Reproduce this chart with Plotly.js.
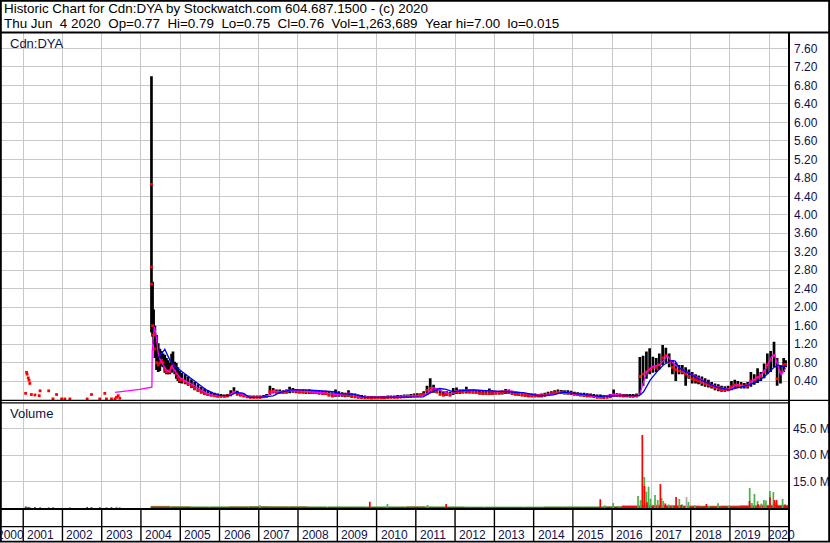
<!DOCTYPE html>
<html><head><meta charset="utf-8">
<script src="https://cdn.plot.ly/plotly-3.0.1.min.js"></script>
<style>html,body{margin:0;padding:0;background:#fff}#chart{width:830px;height:543px}</style>
</head><body><div id="chart"></div>
<script>
// ---------------- DATA ----------------
const priceDates = [
 '2004-04-08','2004-04-18','2004-04-28','2004-05-10','2004-05-25','2004-06-10','2004-06-25','2004-07-10','2004-07-25','2004-08-10','2004-08-25','2004-09-10','2004-09-25','2004-10-12','2004-10-25','2004-11-10','2004-11-25','2004-12-10','2004-12-25',
 '2005-01-15','2005-02-15','2005-03-15','2005-04-15','2005-05-15','2005-06-15','2005-07-15','2005-08-15','2005-09-15','2005-10-15','2005-11-15','2005-12-15',
 '2006-01-15','2006-02-15','2006-03-15','2006-04-15','2006-05-15','2006-06-15','2006-07-15','2006-08-15','2006-09-15','2006-10-15','2006-11-15','2006-12-15',
 '2007-01-15','2007-02-15','2007-03-15','2007-04-15','2007-05-15','2007-06-15','2007-07-15','2007-08-15','2007-09-15','2007-10-15','2007-11-15','2007-12-15',
 '2008-01-15','2008-02-15','2008-03-15','2008-04-15','2008-05-15','2008-06-15','2008-07-15','2008-08-15','2008-09-15','2008-10-15','2008-11-15','2008-12-15',
 '2009-01-15','2009-02-15','2009-03-15','2009-04-15','2009-05-15','2009-06-15','2009-07-15','2009-08-15','2009-09-15','2009-10-15','2009-11-15','2009-12-15',
 '2010-01-15','2010-02-15','2010-03-15','2010-04-15','2010-05-15','2010-06-15','2010-07-15','2010-08-15','2010-09-15','2010-10-15','2010-11-15','2010-12-15',
 '2011-01-15','2011-02-15','2011-03-15','2011-04-15','2011-05-15','2011-06-15','2011-07-15','2011-08-15','2011-09-15','2011-10-15','2011-11-15','2011-12-15',
 '2012-01-15','2012-02-15','2012-03-15','2012-04-15','2012-05-15','2012-06-15','2012-07-15','2012-08-15','2012-09-15','2012-10-15','2012-11-15','2012-12-15',
 '2013-01-15','2013-02-15','2013-03-15','2013-04-15','2013-05-15','2013-06-15','2013-07-15','2013-08-15','2013-09-15','2013-10-15','2013-11-15','2013-12-15',
 '2014-01-15','2014-02-15','2014-03-15','2014-04-15','2014-05-15','2014-06-15','2014-07-15','2014-08-15','2014-09-15','2014-10-15','2014-11-15','2014-12-15',
 '2015-01-15','2015-02-15','2015-03-15','2015-04-15','2015-05-15','2015-06-15','2015-07-15','2015-08-15','2015-09-15','2015-10-15','2015-11-15','2015-12-15',
 '2016-01-15','2016-02-15','2016-03-15','2016-04-15','2016-05-15','2016-06-15','2016-07-15','2016-08-15','2016-09-15','2016-10-15','2016-11-15','2016-12-15',
 '2017-01-15','2017-02-15','2017-03-15','2017-04-15','2017-05-15','2017-06-15','2017-07-15','2017-08-15','2017-09-15','2017-10-15','2017-11-15','2017-12-15',
 '2018-01-15','2018-02-15','2018-03-15','2018-04-15','2018-05-15','2018-06-15','2018-07-15','2018-08-15','2018-09-15','2018-10-15','2018-11-15','2018-12-15',
 '2019-01-15','2019-02-15','2019-03-15','2019-04-15','2019-05-15','2019-06-15','2019-07-15','2019-08-15','2019-09-15','2019-10-15','2019-11-15','2019-12-15',
 '2020-01-15','2020-02-15','2020-03-15','2020-04-15','2020-05-15','2020-06-02'
];
const priceHigh = [
 7.00,2.55,1.95,1.6,1.4,1.22,1.1,1.05,1.0,0.97,0.9,0.85,0.8,0.99,1.04,0.82,0.79,0.7,0.62,
 0.58,0.55,0.5,0.44,0.38,0.33,0.28,0.24,0.2,0.17,0.15,0.13,
 0.12,0.11,0.12,0.2,0.27,0.19,0.15,0.13,0.1,0.09,0.09,0.09,
 0.09,0.1,0.12,0.3,0.25,0.22,0.22,0.2,0.22,0.28,0.25,0.23,
 0.22,0.22,0.21,0.22,0.21,0.2,0.2,0.19,0.19,0.17,0.16,0.22,
 0.18,0.16,0.15,0.2,0.14,0.13,0.11,0.1,0.09,0.08,0.08,0.08,
 0.08,0.08,0.08,0.09,0.09,0.09,0.1,0.1,0.11,0.11,0.12,0.13,
 0.14,0.14,0.18,0.3,0.46,0.32,0.25,0.22,0.18,0.18,0.17,0.25,
 0.26,0.22,0.22,0.28,0.22,0.21,0.2,0.2,0.2,0.19,0.24,0.2,
 0.19,0.19,0.2,0.23,0.22,0.19,0.17,0.16,0.15,0.14,0.13,0.13,
 0.13,0.12,0.13,0.15,0.17,0.18,0.2,0.22,0.21,0.2,0.2,0.19,
 0.17,0.16,0.15,0.15,0.14,0.13,0.12,0.11,0.11,0.1,0.1,0.12,
 0.22,0.14,0.13,0.12,0.12,0.12,0.12,0.13,0.92,0.95,1.04,1.11,
 0.93,0.9,1.0,1.18,1.12,1.0,0.85,0.8,0.75,0.75,0.7,0.65,
 0.6,0.55,0.52,0.5,0.46,0.43,0.38,0.35,0.33,0.3,0.29,0.3,
 0.4,0.43,0.4,0.38,0.36,0.38,0.6,0.55,0.68,0.6,0.78,1.0,
 1.05,1.25,0.9,0.75,0.9,0.85
];
const priceLow = [
 1.45,1.36,1.2,0.9,0.64,0.6,0.62,0.72,0.7,0.58,0.55,0.55,0.55,0.58,0.6,0.55,0.45,0.4,0.36,
 0.35,0.33,0.3,0.25,0.2,0.17,0.13,0.1,0.08,0.07,0.06,0.05,
 0.05,0.05,0.05,0.07,0.12,0.09,0.07,0.05,0.04,0.03,0.03,0.03,
 0.03,0.04,0.05,0.1,0.13,0.13,0.12,0.12,0.13,0.14,0.15,0.14,
 0.13,0.13,0.12,0.12,0.12,0.12,0.11,0.1,0.1,0.07,0.05,0.06,
 0.06,0.06,0.05,0.06,0.04,0.04,0.03,0.02,0.02,0.02,0.015,0.02,
 0.02,0.02,0.02,0.02,0.03,0.03,0.03,0.03,0.04,0.04,0.05,0.06,
 0.06,0.07,0.08,0.1,0.15,0.15,0.14,0.09,0.07,0.08,0.07,0.1,
 0.12,0.12,0.13,0.13,0.13,0.13,0.12,0.11,0.1,0.1,0.1,0.1,
 0.11,0.11,0.11,0.12,0.12,0.1,0.09,0.08,0.07,0.06,0.05,0.05,
 0.05,0.05,0.05,0.06,0.08,0.1,0.11,0.12,0.12,0.11,0.11,0.1,
 0.09,0.08,0.07,0.06,0.05,0.05,0.04,0.03,0.03,0.02,0.03,0.04,
 0.06,0.06,0.06,0.05,0.05,0.05,0.05,0.05,0.1,0.3,0.45,0.55,
 0.58,0.6,0.65,0.75,0.8,0.7,0.55,0.4,0.55,0.55,0.3,0.45,
 0.35,0.35,0.33,0.3,0.28,0.26,0.24,0.2,0.18,0.17,0.17,0.18,
 0.2,0.24,0.25,0.24,0.24,0.24,0.28,0.32,0.36,0.4,0.46,0.55,
 0.6,0.7,0.3,0.35,0.6,0.7
];
const priceClose = [
 2.5,1.6,1.4,1.1,0.8,0.75,0.8,0.85,0.8,0.65,0.6,0.62,0.6,0.7,0.75,0.62,0.55,0.48,0.42,
 0.42,0.38,0.34,0.29,0.24,0.2,0.16,0.13,0.11,0.09,0.08,0.07,
 0.07,0.07,0.08,0.12,0.16,0.12,0.1,0.08,0.06,0.05,0.05,0.05,
 0.05,0.06,0.07,0.17,0.18,0.16,0.15,0.15,0.16,0.2,0.19,0.18,
 0.17,0.16,0.16,0.16,0.15,0.15,0.14,0.13,0.13,0.1,0.08,0.1,
 0.11,0.1,0.09,0.1,0.07,0.06,0.05,0.05,0.04,0.04,0.03,0.04,
 0.04,0.04,0.04,0.05,0.05,0.05,0.05,0.06,0.06,0.07,0.07,0.08,
 0.08,0.09,0.12,0.2,0.24,0.2,0.17,0.12,0.1,0.11,0.1,0.15,
 0.17,0.16,0.17,0.18,0.17,0.16,0.15,0.14,0.13,0.13,0.13,0.13,
 0.14,0.14,0.15,0.16,0.15,0.13,0.12,0.11,0.1,0.09,0.08,0.08,
 0.08,0.08,0.08,0.1,0.12,0.13,0.15,0.16,0.16,0.15,0.14,0.14,
 0.12,0.11,0.1,0.09,0.08,0.08,0.07,0.05,0.05,0.05,0.05,0.06,
 0.1,0.09,0.08,0.08,0.08,0.07,0.07,0.08,0.5,0.55,0.6,0.65,
 0.7,0.7,0.75,0.9,0.95,0.8,0.7,0.65,0.62,0.6,0.55,0.5,
 0.45,0.43,0.4,0.37,0.34,0.32,0.29,0.26,0.23,0.21,0.21,0.22,
 0.28,0.32,0.31,0.3,0.29,0.3,0.4,0.42,0.48,0.5,0.6,0.75,
 0.85,0.95,0.45,0.6,0.75,0.76
];
// isolated trades (red dots) before regular trading + intraday prints in the spike
const tradeDates = ['2001-01-23','2001-02-01','2001-02-06','2001-02-17','2001-02-24','2001-03-03','2001-03-18','2001-04-20','2001-05-30','2001-06-07','2001-08-26','2001-10-05','2001-11-07','2001-12-24','2002-01-23','2002-03-11','2002-08-19','2002-09-28','2002-12-14','2003-01-30','2003-02-14','2003-04-02','2003-05-05','2003-05-19','2003-06-03','2003-06-18','2004-04-09','2004-04-10'];
const tradePrices = [0.135,0.59,0.55,0.47,0.42,0.35,0.11,0.10,0.085,0.19,0.19,0.015,0.11,0.015,0.015,0.015,0.015,0.11,0.015,0.135,0.015,0.015,0.015,0.05,0.085,0.03,4.66,2.87];
// short moving average (magenta)
const maShortDates = ['2003-05-05','2003-09-20','2003-12-20','2004-04-12','2004-04-15','2004-05-05','2004-05-20','2004-06-10','2004-06-28','2004-07-25','2004-08-25','2004-09-20','2004-10-15','2004-11-25','2005-01-01','2005-03-01','2005-05-01','2005-07-01','2005-09-01','2005-11-01','2006-01-15','2006-04-01','2006-05-15','2006-07-01','2006-08-15','2006-10-15','2007-03-01','2007-04-15','2007-05-20','2007-08-01','2007-10-15','2008-01-01','2008-06-01','2008-10-01','2009-01-01','2009-04-25','2009-07-25','2010-01-01','2010-05-01','2010-10-01','2011-03-10','2011-04-20','2011-06-10','2011-07-10','2011-09-10','2011-11-25','2011-12-28','2012-02-15','2012-06-15','2012-10-20','2013-01-20','2013-05-20','2013-09-25','2014-01-20','2014-05-01','2014-08-01','2014-10-01','2015-03-01','2015-09-10','2016-01-10','2016-05-15','2016-09-10','2016-10-20','2016-11-18','2017-01-05','2017-03-15','2017-05-05','2017-05-28','2017-07-20','2017-09-20','2017-11-20','2018-01-20','2018-03-25','2018-05-25','2018-08-28','2018-12-28','2019-03-01','2019-06-01','2019-08-05','2019-10-05','2019-12-05','2020-01-22','2020-02-20','2020-03-25','2020-04-22','2020-06-03'];
const maShort = [0.155,0.19,0.22,0.27,1.05,1.58,1.40,1.0,0.86,0.75,0.64,0.6,0.72,0.58,0.47,0.39,0.32,0.22,0.14,0.085,0.08,0.09,0.17,0.14,0.10,0.05,0.05,0.12,0.18,0.17,0.21,0.19,0.17,0.14,0.11,0.14,0.06,0.05,0.05,0.08,0.085,0.14,0.26,0.24,0.17,0.12,0.17,0.21,0.21,0.19,0.17,0.19,0.15,0.10,0.09,0.13,0.15,0.11,0.06,0.11,0.085,0.085,0.39,0.60,0.71,0.75,0.87,0.95,0.79,0.68,0.60,0.53,0.46,0.37,0.28,0.22,0.32,0.29,0.42,0.51,0.68,0.93,0.97,0.71,0.53,0.68];
// long moving average (blue)
const maLongDates = ['2004-06-12','2004-08-10','2004-09-25','2004-11-08','2004-12-28','2005-03-01','2005-05-01','2005-07-01','2005-09-01','2005-11-01','2006-01-01','2006-04-05','2006-06-05','2006-08-07','2006-10-08','2007-01-08','2007-05-15','2007-07-15','2007-10-20','2008-03-20','2008-07-20','2008-11-25','2009-01-25','2009-05-25','2009-09-25','2010-05-05','2010-10-05','2011-03-10','2011-05-10','2011-08-10','2011-10-10','2011-12-15','2012-02-15','2012-06-15','2012-11-15','2013-04-20','2013-09-25','2014-02-25','2014-07-01','2014-10-01','2015-03-08','2015-09-10','2016-05-15','2016-09-10','2016-10-20','2016-12-20','2017-02-20','2017-04-22','2017-06-25','2017-08-08','2017-09-20','2017-11-20','2018-01-20','2018-03-25','2018-05-25','2018-08-28','2018-12-28','2019-04-01','2019-07-01','2019-10-05','2019-12-05','2020-02-05','2020-03-25','2020-05-10','2020-06-03'];
const maLong = [0.9,1.09,0.86,0.72,0.64,0.53,0.42,0.32,0.21,0.14,0.09,0.085,0.15,0.14,0.05,0.05,0.08,0.15,0.21,0.21,0.19,0.17,0.13,0.12,0.05,0.05,0.06,0.06,0.14,0.24,0.22,0.17,0.19,0.21,0.19,0.17,0.15,0.08,0.10,0.16,0.12,0.07,0.09,0.085,0.17,0.42,0.60,0.75,0.84,0.84,0.68,0.60,0.51,0.44,0.37,0.27,0.21,0.27,0.32,0.42,0.53,0.68,0.75,0.71,0.74];
// volume (millions of shares)
const volBaseDates = ['2004-07-01','2005-01-01','2005-07-01','2006-01-01','2006-07-01','2007-01-01','2007-07-01','2008-01-01','2008-07-01','2009-01-01','2009-07-01','2010-01-01','2010-07-01','2011-01-01','2011-07-01','2012-01-01','2012-07-01','2013-01-01','2013-07-01','2014-01-01','2014-07-01','2015-01-01','2015-07-01','2016-01-01','2016-07-01','2017-01-01','2017-07-01','2018-01-01','2018-07-01','2019-01-01','2019-07-01','2020-01-01','2020-04-15'];
const volBaseUp = [1.2,1.0,0.9,0.9,1.0,1.1,1.0,1.0,0.9,0.9,0.9,0.9,0.9,1.0,0.9,0.9,0.8,0.8,0.8,0.8,0.9,0.9,0.9,1.0,1.5,1.8,1.6,1.4,1.3,1.4,1.6,1.8,1.8];
const volBaseDown = [0.8,0.7,0.6,0.6,0.7,0.7,0.7,0.7,0.6,0.6,0.6,0.6,0.6,0.7,0.6,0.6,0.5,0.5,0.5,0.5,0.6,0.6,0.6,0.7,1.1,1.2,1.1,1.0,0.9,1.0,1.1,1.2,1.2];
const volUpDates = ['2001-02-01','2001-03-03','2001-06-07','2001-08-26','2002-03-11','2003-02-14','2003-05-19','2003-06-18','2007-01-12','2010-04-12','2011-04-20','2015-10-25','2016-01-11','2016-03-10','2016-08-29','2016-09-21','2016-10-27','2016-11-14','2016-12-05','2016-12-23','2017-02-03','2017-02-28','2017-04-05','2017-04-21','2017-06-10','2017-07-15','2017-09-17','2017-10-15','2017-12-11','2018-02-10','2018-06-20','2018-09-12','2018-12-20','2019-07-04','2019-07-25','2019-08-17','2019-09-15','2019-10-20','2019-11-13','2019-12-02','2020-01-08','2020-02-09','2020-03-05','2020-05-05'];
const volUp = [0.8,0.6,0.5,0.5,0.4,0.6,0.7,0.5,1.5,2.3,1.7,1.5,2.8,1.2,6.8,4.5,17.6,9.3,12.1,5.3,7.4,4.5,5.6,4.0,2.0,1.5,5.1,2.0,3.4,1.5,1.2,2.7,1.4,11.4,2.8,8.0,3.9,2.5,4.5,4.3,9.7,9.1,3.2,5.1];
const volDownDates = ['2001-01-23','2001-02-17','2001-04-20','2001-10-05','2002-08-19','2002-09-28','2002-12-14','2003-04-02','2009-10-30','2011-10-10','2015-09-13','2016-10-08','2016-10-27','2016-11-20','2017-03-25','2017-05-10','2017-08-18','2017-10-05','2018-05-27','2019-07-02','2019-09-20','2020-01-08','2020-02-20','2020-03-10','2020-05-28'];
const volDown = [0.8,0.6,0.5,0.4,0.6,0.5,0.5,0.5,3.5,2.3,5.0,41.5,12.5,3.3,13.6,2.6,6.2,1.8,2.3,4.0,2.2,6.1,4.5,4.5,2.0];
const volFlatDates = ['2017-11-23'];
const volFlat = [6.2];
// axis labels
const priceTicks = [0.4,0.8,1.2,1.6,2.0,2.4,2.8,3.2,3.6,4.0,4.4,4.8,5.2,5.6,6.0,6.4,6.8,7.2,7.6];
const priceTickText = ['0.40','0.80','1.20','1.60','2.00','2.40','2.80','3.20','3.60','4.00','4.40','4.80','5.20','5.60','6.00','6.40','6.80','7.20','7.60'];
const volTicks = [15,30,45];
const volTickText = ['15.0 M','30.0 M','45.0 M'];
const yearLines = ['2001-01-01','2002-01-01','2003-01-01','2004-01-01','2005-01-01','2006-01-01','2007-01-01','2008-01-01','2009-01-01','2010-01-01','2011-01-01','2012-01-01','2013-01-01','2014-01-01','2015-01-01','2016-01-01','2017-01-01','2018-01-01','2019-01-01','2020-01-01'];
const yearLabels = ['2000','2001','2002','2003','2004','2005','2006','2007','2008','2009','2010','2011','2012','2013','2014','2015','2016','2017','2018','2019','2020'];
const headerLine1 = 'Historic Chart for Cdn:DYA by Stockwatch.com 604.687.1500 - (c) 2020';
const headerLine2 = 'Thu Jun \u00a04 2020 \u00a0Op=0.77 \u00a0Hi=0.79 \u00a0Lo=0.75 \u00a0Cl=0.76 \u00a0Vol=1,263,689 \u00a0Year hi=7.00 \u00a0lo=0.015';

// ---------------- LAYOUT HELPERS ----------------
const W = 789, T = 33, B = 509, H = B - T;
const PX = p => p / W;
const PY = p => (B - p) / H;
const DAY = 86400000;
const FONT = 'Liberation Sans, Arial, sans-serif';
const NAVY = '#10104a';
const GRID = '#c8c8c8';

const traces = [
  {type:'bar', x:priceDates, y:priceHigh.map((h,i)=>h-priceLow[i]), base:priceLow, width:25*DAY,
   marker:{color:'#000', line:{width:0}}, xaxis:'x', yaxis:'y', hoverinfo:'skip'},
  {type:'scatter', mode:'markers', x:priceDates, y:priceClose, marker:{symbol:'square', size:2.8, color:'#ff0000'},
   xaxis:'x', yaxis:'y', hoverinfo:'skip'},
  {type:'scatter', mode:'markers', x:tradeDates, y:tradePrices, marker:{symbol:'square', size:2.8, color:'#ff0000'},
   xaxis:'x', yaxis:'y', hoverinfo:'skip', cliponaxis:false},
  {type:'scatter', mode:'lines', x:maShortDates, y:maShort, line:{color:'#ff00ff', width:1.3},
   xaxis:'x', yaxis:'y', hoverinfo:'skip'},
  {type:'scatter', mode:'lines', x:maLongDates, y:maLong, line:{color:'#0000ff', width:1.3},
   xaxis:'x', yaxis:'y', hoverinfo:'skip'},
  {type:'bar', x:volBaseDates, y:volBaseUp, width:182*DAY, marker:{color:'#4cb04c', line:{width:0}}, xaxis:'x', yaxis:'y2', hoverinfo:'skip'},
  {type:'bar', x:volBaseDates, y:volBaseDown, width:182*DAY, marker:{color:'#ff0000', line:{width:0}}, xaxis:'x', yaxis:'y2', hoverinfo:'skip'},
  {type:'bar', x:volUpDates, y:volUp, width:16*DAY, marker:{color:'#4cb04c', line:{width:0}}, xaxis:'x', yaxis:'y2', hoverinfo:'skip'},
  {type:'bar', x:volFlatDates, y:volFlat, width:16*DAY, marker:{color:'#a8a8a8', line:{width:0}}, xaxis:'x', yaxis:'y2', hoverinfo:'skip'},
  {type:'bar', x:volDownDates, y:volDown, width:16*DAY, marker:{color:'#ff0000', line:{width:0}}, xaxis:'x', yaxis:'y2', hoverinfo:'skip'}
];

const shapes = [];
const hline = (py, x0, x1, w) => shapes.push({type:'line', xref:'paper', yref:'paper', x0:PX(x0), x1:PX(x1), y0:PY(py), y1:PY(py), line:{color:'#000', width:w}});
const vline = (px, y0, y1, w) => shapes.push({type:'line', xref:'paper', yref:'paper', x0:PX(px), x1:PX(px), y0:PY(y0), y1:PY(y1), line:{color:'#000', width:w}});
shapes.push({type:'rect', xref:'paper', yref:'paper', x0:PX(0.9), x1:PX(829.1), y0:PY(0.8), y1:PY(541.6), line:{color:'#000', width:1.8}});
hline(32.6, 0, 830, 2);
vline(789, 32, 542, 2);
hline(400.4, 0, 830, 1.2);
hline(402.9, 0, 789, 1.2);
hline(509.1, 0, 789, 2);
hline(526.6, 0, 789, 1.4);
yearLines.forEach(d => shapes.push({type:'line', xref:'x', yref:'paper', x0:d, x1:d, y0:PY(509), y1:PY(541.5), line:{color:'#000', width:1.4}}));

const annotations = [
  {text:headerLine1, xref:'paper', yref:'paper', x:PX(1.5), y:PY(8.6), xanchor:'left', yanchor:'middle', showarrow:false, font:{family:FONT, size:13.4, color:'#000'}},
  {text:headerLine2, xref:'paper', yref:'paper', x:PX(1.5), y:PY(23.6), xanchor:'left', yanchor:'middle', showarrow:false, font:{family:FONT, size:13.4, color:'#000'}},
  {text:'Cdn:DYA', xref:'paper', yref:'paper', x:PX(7.5), y:PY(43), xanchor:'left', yanchor:'middle', showarrow:false, font:{family:FONT, size:13, color:NAVY}},
  {text:'Volume', xref:'paper', yref:'paper', x:PX(7.5), y:PY(413.5), xanchor:'left', yanchor:'middle', showarrow:false, font:{family:FONT, size:13, color:NAVY}}
];
yearLabels.forEach((lab, i) => {
  const first = i === 0, last = i === yearLabels.length - 1;
  annotations.push({
    text:lab, xref:'x', yref:'paper',
    x: first ? yearLines[0] : lab + '-01-01',
    xanchor: first ? 'right' : 'left',
    xshift: first ? 2.5 : (last ? -3 : 2),
    y:PY(534.5), yanchor:'middle', showarrow:false,
    font:{family:FONT, size:12, color:NAVY}
  });
});

const layout = {
  width:830, height:543,
  margin:{l:0, r:41, t:T, b:543-B, pad:0},
  paper_bgcolor:'#fff', plot_bgcolor:'#fff',
  showlegend:false, barmode:'overlay', hovermode:false,
  xaxis:{type:'date', range:['2000-05-30','2020-07-03 10:00'], anchor:'y2',
    tickvals:yearLines, showticklabels:false, ticks:'', showgrid:true, gridcolor:GRID, gridwidth:1,
    zeroline:false, showline:false, fixedrange:true},
  yaxis:{domain:[PY(400.5), 1], range:[-0.0195, 7.935], side:'right', anchor:'x',
    tickvals:priceTicks, ticktext:priceTickText, ticks:'', ticklabelstandoff:4, showgrid:true, gridcolor:GRID, gridwidth:1,
    zeroline:false, showline:false, tickfont:{family:FONT, size:12, color:NAVY}, fixedrange:true},
  yaxis2:{domain:[0, PY(403)], range:[-0.57, 59.66], side:'right', anchor:'x',
    tickvals:volTicks, ticktext:volTickText, ticks:'', ticklabelstandoff:3, showgrid:true, gridcolor:GRID, gridwidth:1,
    zeroline:false, showline:false, tickfont:{family:FONT, size:12, color:NAVY}, fixedrange:true},
  shapes, annotations
};

Plotly.newPlot('chart', traces, layout, {staticPlot:true, displayModeBar:false});
</script>
</body></html>
